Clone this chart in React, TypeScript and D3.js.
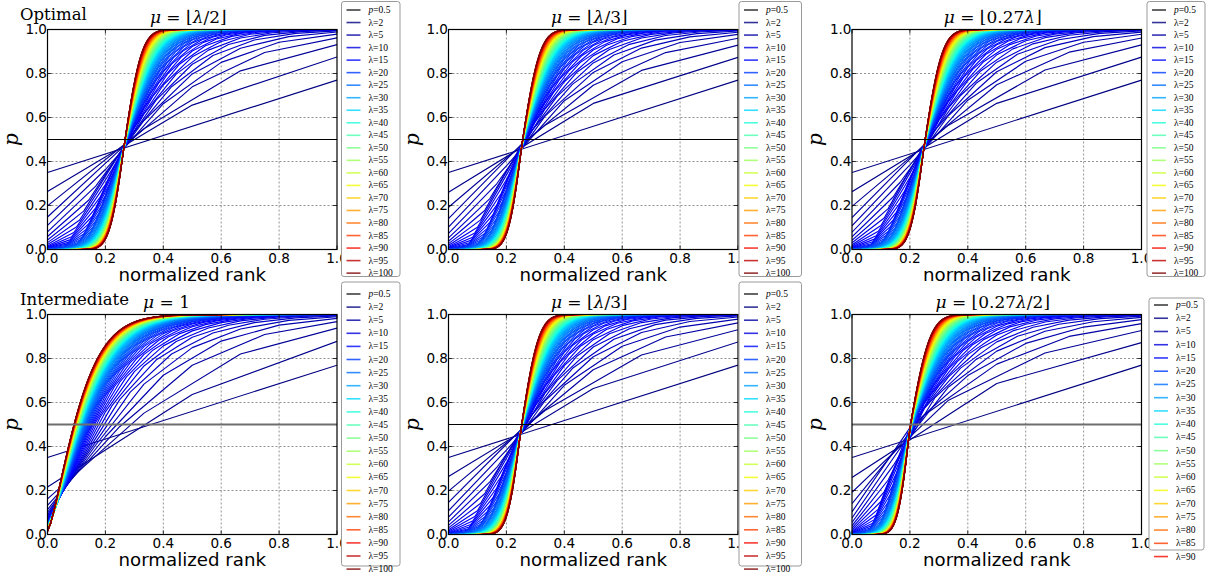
import React from "react";
import * as d3 from "d3";

// ---------------- data ----------------
// every population size drawn as a curve
const LAMBDAS: number[] = d3.range(2, 101);
// legend entries
const LEGEND_LAMBDAS: number[] = [2, 5, 10, 15, 20, 25, 30, 35, 40, 45, 50, 55, 60, 65, 70, 75, 80, 85, 90, 95, 100];
const LEGEND_LAMBDAS_SHORT: number[] = [2, 5, 10, 15, 20, 25, 30, 35, 40, 45, 50, 55, 60, 65, 70, 75, 80, 85, 90];
const TICKS: number[] = [0, 0.2, 0.4, 0.6, 0.8, 1.0];
const TICK_LABELS: string[] = ["0.0", "0.2", "0.4", "0.6", "0.8", "1.0"];
const REFERENCE_P = 0.5;

const PANEL_MU: string[] = ["⌊λ/2⌋", "⌊λ/3⌋", "⌊0.27λ⌋", "1", "⌊λ/3⌋", "⌊0.27λ/2⌋"];
const PANEL_GROUP: string[] = ["Optimal", "", "", "Intermediate", "", ""];

// readings
const P_LAMBDA2_AT_RANK0 = 0.35; // λ=2 curve at normalized rank 0
const P_LAMBDA2_AT_RANK1 = 0.77; // λ=2 curve at normalized rank 1
// rank / p where the family of curves crosses (NaN: no common crossing)
const PIVOT_RANK: number[] = [0.265, 0.254, 0.25, NaN, 0.25, 0.2];
const PIVOT_P: number[] = [0.475, 0.482, 0.478, NaN, 0.476, 0.485];
// width of the large-λ sigmoid below / above the crossing
const LIMIT_LEFT_WIDTH: number[] = [0.024, 0.023, 0.024, NaN, 0.022, 0.022];
const LIMIT_RIGHT_WIDTH: number[] = [0.001, 0.001, 0.001, NaN, 0.001, 0.004];
// how fast the curves tighten with λ (below / above the crossing)
const TIGHTEN_LEFT = 0.85;
const TIGHTEN_RIGHT = 0.6;
// μ = 1 panel: scale and shape of the curve for λ = 2 and for large λ
const MU1_SCALE: number[] = [0.97, 0.094];
const MU1_SHAPE: number[] = [1.2, 1.35];

// ---------------- layout ----------------
const W = 1209;
const H = 575;
const COL_X = [47.5, 448.5, 852];
const ROW_Y = [29.5, 314.5];
const PW = 289.5;
const PH = 220;
// [x, y, w, h, first row y, row step]
const LEGEND_BOX: number[][] = [
  [341.5, 1.5, 58.5, 275, 10, 12.53],
  [739, 1.5, 62.5, 275, 10, 12.53],
  [1147, 1.5, 58, 275, 10, 12.53],
  [341.5, 282, 58.5, 284, 294, 13.1],
  [739, 282, 62.5, 284, 294, 13.1],
  [1149, 298, 55, 252, 305, 13.24],
];

// ---------------- helpers ----------------
function erf(x: number): number {
  const s = Math.sign(x);
  const a = Math.abs(x);
  const t = 1 / (1 + 0.3275911 * a);
  const y =
    1 -
    ((((1.061405429 * t - 1.453152027) * t + 1.421413741) * t - 0.284496736) * t + 0.254829592) *
      t *
      Math.exp(-a * a);
  return s * y;
}
const Phi = (z: number) => 0.5 * (1 + erf(z / Math.SQRT2));
function probit(p: number): number {
  const a = [-39.69683028665376, 220.9460984245205, -275.9285104469687, 138.357751867269, -30.66479806614716, 2.506628277459239];
  const b = [-54.47609879822406, 161.5858368580409, -155.6989798598866, 66.80131188771972, -13.28068155288572];
  const c = [-0.007784894002430293, -0.3223964580411365, -2.400758277161838, -2.549732539343734, 4.374664141464968, 2.938163982698783];
  const d = [0.007784695709041462, 0.3224671290700398, 2.445134137142996, 3.754408661907416];
  const pl = 0.02425;
  if (p < pl) {
    const q = Math.sqrt(-2 * Math.log(p));
    return (((((c[0] * q + c[1]) * q + c[2]) * q + c[3]) * q + c[4]) * q + c[5]) / ((((d[0] * q + d[1]) * q + d[2]) * q + d[3]) * q + 1);
  }
  if (p > 1 - pl) {
    const q = Math.sqrt(-2 * Math.log(1 - p));
    return -(((((c[0] * q + c[1]) * q + c[2]) * q + c[3]) * q + c[4]) * q + c[5]) / ((((d[0] * q + d[1]) * q + d[2]) * q + d[3]) * q + 1);
  }
  const q = p - 0.5;
  const r = q * q;
  return ((((((a[0] * r + a[1]) * r + a[2]) * r + a[3]) * r + a[4]) * r + a[5]) * q) / (((((b[0] * r + b[1]) * r + b[2]) * r + b[3]) * r + b[4]) * r + 1);
}

const jr = d3.scaleLinear().domain([0, 0.35, 0.66, 0.89, 1]).range([0, 0, 1, 1, 0.5]).clamp(true);
const jg = d3.scaleLinear().domain([0, 0.125, 0.375, 0.64, 0.91, 1]).range([0, 0, 1, 1, 0, 0]).clamp(true);
const jb = d3.scaleLinear().domain([0, 0.11, 0.34, 0.65, 1]).range([0.5, 1, 1, 0, 0]).clamp(true);
const jet = (t: number) => d3.rgb(jr(t) * 255, jg(t) * 255, jb(t) * 255).formatHex();
const lamColor = d3.scaleLinear().domain([2, 100]).range([0, 1]);

function curveP(panel: number, lam: number, x: number): number {
  const w = 1 / (lam - 1);
  if (Number.isNaN(PIVOT_RANK[panel])) {
    const c = P_LAMBDA2_AT_RANK0 * Math.pow(w, 0.7);
    const a = MU1_SCALE[1] + (MU1_SCALE[0] - MU1_SCALE[1]) * Math.pow(w, 0.75);
    const b = MU1_SHAPE[1] + (MU1_SHAPE[0] - MU1_SHAPE[1]) * w;
    return 1 - (1 - c) * Math.exp(-Math.pow(x / a, b));
  }
  const x0 = PIVOT_RANK[panel];
  const z0 = probit(PIVOT_P[panel]);
  const sL2 = x0 / (z0 - probit(P_LAMBDA2_AT_RANK0));
  const sR2 = Math.log(2 - x0) / (probit(P_LAMBDA2_AT_RANK1) - z0);
  const LL = LIMIT_LEFT_WIDTH[panel];
  const LR = LIMIT_RIGHT_WIDTH[panel];
  const sL = LL + (sL2 - LL) * Math.pow(w, TIGHTEN_LEFT);
  const sR = LR + (sR2 - LR) * Math.pow(w, TIGHTEN_RIGHT);
  const z = x < x0 ? z0 + (x - x0) / sL : z0 + Math.log(1 + x - x0) / sR;
  return Math.min(1, Math.max(0, Phi(z)));
}

function MathText({ body }: { body: string }) {
  const parts = body.split("λ");
  const out: React.ReactNode[] = [];
  parts.forEach((s, i) => {
    if (i > 0) out.push(<tspan key={"l" + i} fontStyle="italic">λ</tspan>);
    if (s) out.push(<tspan key={"s" + i}>{s}</tspan>);
  });
  return <>{out}</>;
}

function Panel({ k }: { k: number }) {
  const col = k % 3;
  const row = Math.floor(k / 3);
  const left = COL_X[col];
  const top = ROW_Y[row];
  const xs = d3.scaleLinear().domain([0, 1]).range([left, left + PW]);
  const ys = d3.scaleLinear().domain([0, 1]).range([top + PH, top]);
  const line = d3
    .line<[number, number]>()
    .x((d) => xs(d[0]))
    .y((d) => ys(d[1]));
  const clipId = "clip" + k;
  const refGray = k === 3 || k === 5;
  return (
    <g>
      <defs>
        <clipPath id={clipId}>
          <rect x={left} y={top} width={PW} height={PH} />
        </clipPath>
      </defs>
      <rect x={left} y={top} width={PW} height={PH} fill="#fff" />
      {/* grid */}
      {TICKS.slice(1, -1).map((t) => (
        <g key={"g" + t}>
          <line x1={xs(t)} x2={xs(t)} y1={top} y2={top + PH} stroke="#777" strokeWidth={0.8} strokeDasharray="2,2" />
          <line x1={left} x2={left + PW} y1={ys(t)} y2={ys(t)} stroke="#777" strokeWidth={0.8} strokeDasharray="2,2" />
        </g>
      ))}
      <g clipPath={`url(#${clipId})`}>
        {LAMBDAS.map((lam) => {
          const pts: [number, number][] = d3.range(lam).map((i) => {
            const x = i / (lam - 1);
            return [x, curveP(k, lam, x)];
          });
          return (
            <path
              key={lam}
              d={line(pts) || ""}
              fill="none"
              stroke={jet(lamColor(lam))}
              strokeWidth={1.15}
              strokeLinejoin="round"
            />
          );
        })}
        <line
          x1={left}
          x2={left + PW}
          y1={ys(REFERENCE_P)}
          y2={ys(REFERENCE_P)}
          stroke={refGray ? "#6e6e6e" : "#000"}
          strokeWidth={refGray ? 1.8 : 1.2}
        />
      </g>
      {/* ticks */}
      {TICKS.map((t) => (
        <g key={"t" + t} stroke="#000" strokeWidth={0.8}>
          <line x1={xs(t)} x2={xs(t)} y1={top + PH} y2={top + PH - 4} />
          <line x1={xs(t)} x2={xs(t)} y1={top} y2={top + 4} />
          <line x1={left} x2={left + 4} y1={ys(t)} y2={ys(t)} />
          <line x1={left + PW} x2={left + PW - 4} y1={ys(t)} y2={ys(t)} />
        </g>
      ))}
      <rect x={left} y={top} width={PW} height={PH} fill="none" stroke="#000" strokeWidth={1.2} />
      {/* tick labels */}
      {TICKS.map((t, i) => (
        <text key={"xl" + t} x={xs(t)} y={top + PH + 13.2} textAnchor="middle" fontFamily="DejaVu Sans" fontSize={13.6}>
          {TICK_LABELS[i]}
        </text>
      ))}
      {TICKS.map((t, i) => (
        <text key={"yl" + t} x={left - 0.5} y={ys(t) + 4.6} textAnchor="end" fontFamily="DejaVu Sans" fontSize={13.6}>
          {TICK_LABELS[i]}
        </text>
      ))}
      <text x={left + PW / 2} y={top + PH + 31} textAnchor="middle" fontFamily="DejaVu Sans" fontSize={18.2}>
        normalized rank
      </text>
      <text
        transform={`translate(${left - 30},${top + PH / 2}) rotate(-90)`}
        textAnchor="middle"
        fontFamily="DejaVu Serif"
        fontStyle="italic"
        fontSize={20}
      >
        p
      </text>
      {/* titles */}
      {PANEL_GROUP[k] ? (
        <text x={20} y={top - 10} fontFamily="DejaVu Serif" fontSize={16.5}>
          {PANEL_GROUP[k]}
        </text>
      ) : null}
      <text
        x={k === 3 ? 143 : left + PW / 2 - 4}
        y={top - 7}
        textAnchor={k === 3 ? "start" : "middle"}
        fontFamily="DejaVu Serif"
        fontSize={17}
      >
        <tspan fontStyle="italic">μ</tspan>
        <tspan> = </tspan>
        <MathText body={PANEL_MU[k]} />
      </text>
    </g>
  );
}

function Legend({ k }: { k: number }) {
  const [bx, by, bw, bh, r0, step] = LEGEND_BOX[k];
  const lams = k === 5 ? LEGEND_LAMBDAS_SHORT : LEGEND_LAMBDAS;
  return (
    <g>
      <rect x={bx} y={by} width={bw} height={bh} rx={2.5} fill="#fff" stroke="#999" strokeWidth={1} />
      <line x1={bx + 5} x2={bx + 19} y1={r0} y2={r0} stroke="#333" strokeWidth={1.5} />
      <text x={bx + 27} y={r0 + 3} fontFamily="Liberation Serif" fontSize={9.5}>
        <tspan fontStyle="italic">p</tspan>=0.5
      </text>
      {lams.map((lam, i) => {
        const y = r0 + step * (i + 1);
        return (
          <g key={lam}>
            <line x1={bx + 5} x2={bx + 19} y1={y} y2={y} stroke={jet(lamColor(lam))} strokeOpacity={0.8} strokeWidth={1.6} />
            <text x={bx + 27} y={y + 3} fontFamily="Liberation Serif" fontSize={9.5}>
              λ={lam}
            </text>
          </g>
        );
      })}
    </g>
  );
}

export default function App() {
  const ids = [0, 1, 2, 3, 4, 5];
  return (
    <svg
      width={W}
      height={H}
      viewBox={`0 0 ${W} ${H}`}
      style={{ position: "absolute", left: 0, top: 0, background: "#fff" }}
    >
      <rect x={0} y={0} width={W} height={H} fill="#fff" />
      {ids.map((k) => (
        <Panel key={k} k={k} />
      ))}
      {ids.map((k) => (
        <Legend key={"lg" + k} k={k} />
      ))}
    </svg>
  );
}
